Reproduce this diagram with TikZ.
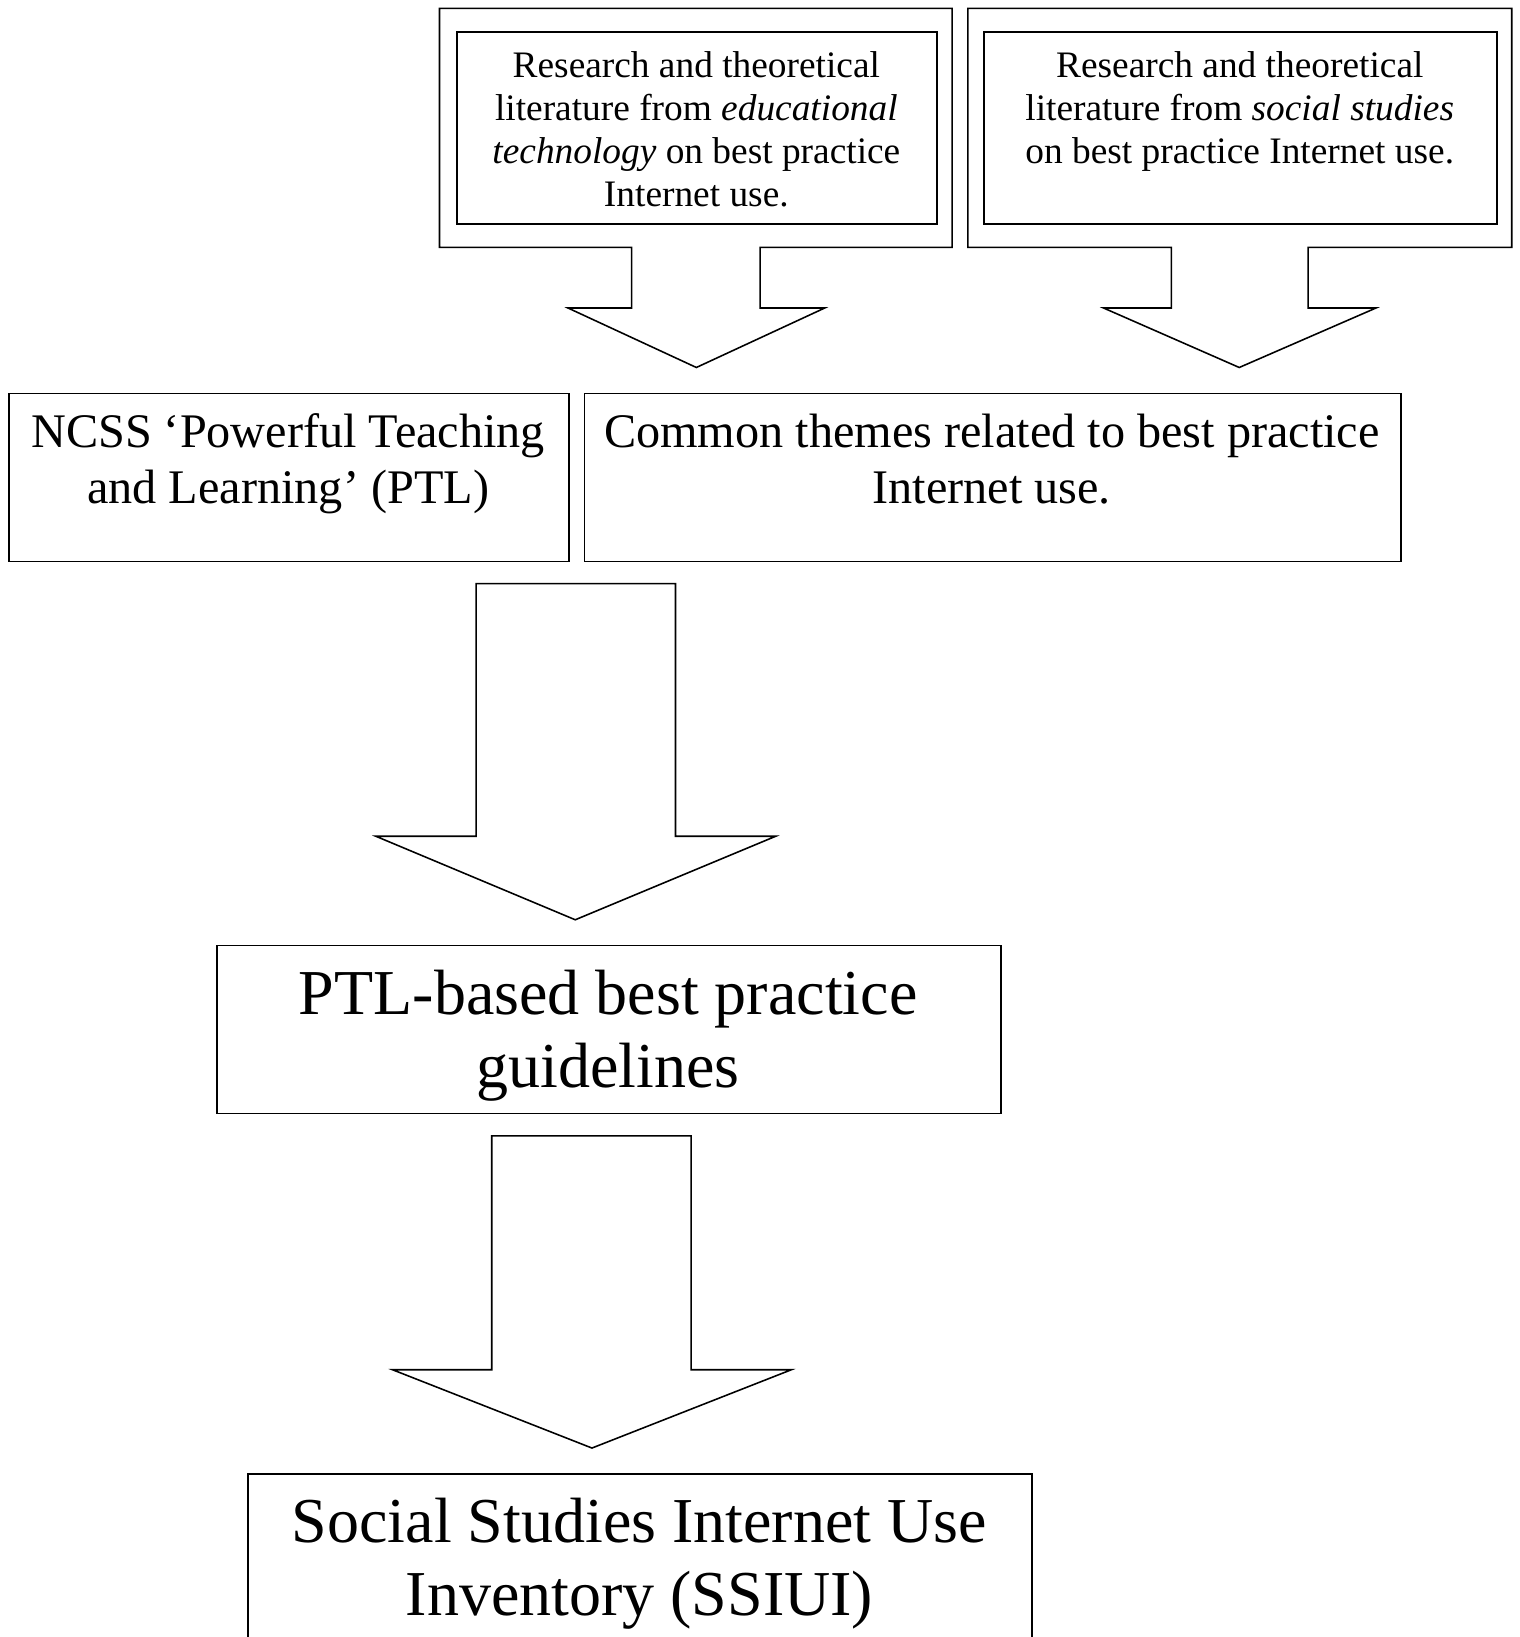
\documentclass[tikz,border=0pt]{standalone}
\usepackage{fontspec}
\setmainfont{Liberation Serif}
\begin{document}
\begin{tikzpicture}[x=1pt,y=-1pt,
  line join=miter,
  outl/.style={draw=black,line width=1.5pt},
  boxnode/.style={draw=black,line width=1.5pt,rectangle,inner sep=0pt,anchor=north west},
  txt/.style={anchor=north,inner sep=0pt,align=center},
  smalltxt/.style={txt,font=\fontsize{35.8}{41.3}\selectfont},
  midtxt/.style={txt,font=\fontsize{46.2}{54}\selectfont},
  bigtxt/.style={txt,font=\fontsize{61.3}{70}\selectfont}
]
\useasboundingbox (0,0) rectangle (1455,1568);
\fill[white] (0,0) rectangle (1455,1568);

% top left: outer box merged with block arrow
\draw[outl] (421,8) -- (912,8) -- (912,237) -- (728,237) -- (728,295) -- (790,295)
  -- (667,352) -- (544,295) -- (605,295) -- (605,237) -- (421,237) -- cycle;
\node[boxnode,minimum width=460pt,minimum height=184pt] (edtech) at (437,30) {};
\node[smalltxt] (edtechtxt) at (667,49) {Research and theoretical\\literature from \textit{educational}\\\textit{technology} on best practice\\Internet use.};

% top right
\draw[outl] (927,8) -- (1448,8) -- (1448,237) -- (1253,237) -- (1253,295) -- (1318,295)
  -- (1187,352) -- (1057,295) -- (1122,295) -- (1122,237) -- (927,237) -- cycle;
\node[boxnode,minimum width=491pt,minimum height=184pt] (socst) at (942,30) {};
\node[smalltxt] (socsttxt) at (1187.5,49) {Research and theoretical\\literature from \textit{social studies}\\on best practice Internet use.};

% middle row
\node[boxnode,minimum width=536pt,minimum height=161pt] (ncss) at (8,376) {};
\node[midtxt] (ncsstxt) at (276,396) {NCSS ‘Powerful Teaching\\and Learning’ (PTL)};
\node[boxnode,minimum width=782pt,minimum height=161pt] (common) at (559,376) {};
\node[midtxt] (commontxt) at (950,396) {Common themes related to best practice\\Internet use.};

% big arrow 1
\draw[outl] (456,559) -- (647,559) -- (647,801) -- (743,801) -- (551,881)
  -- (360,801) -- (456,801) -- cycle;

% PTL box
\node[boxnode,minimum width=751pt,minimum height=161pt] (ptl) at (207,905) {};
\node[bigtxt] (ptltxt) at (582.5,929) {PTL-based best practice\\guidelines};

% big arrow 2
\draw[outl] (471,1088) -- (662,1088) -- (662,1312) -- (758,1312) -- (567,1387)
  -- (376,1312) -- (471,1312) -- cycle;

% SSIUI box (cut by the lower edge)
\begin{scope}
\clip (0,0) rectangle (1455,1568);
\node[boxnode,minimum width=751pt,minimum height=200pt] (ssiui) at (237,1411) {};
\end{scope}
\node[bigtxt] (ssiuitxt) at (612.5,1435) {Social Studies Internet Use\\Inventory (SSIUI)};
\end{tikzpicture}
\end{document}
